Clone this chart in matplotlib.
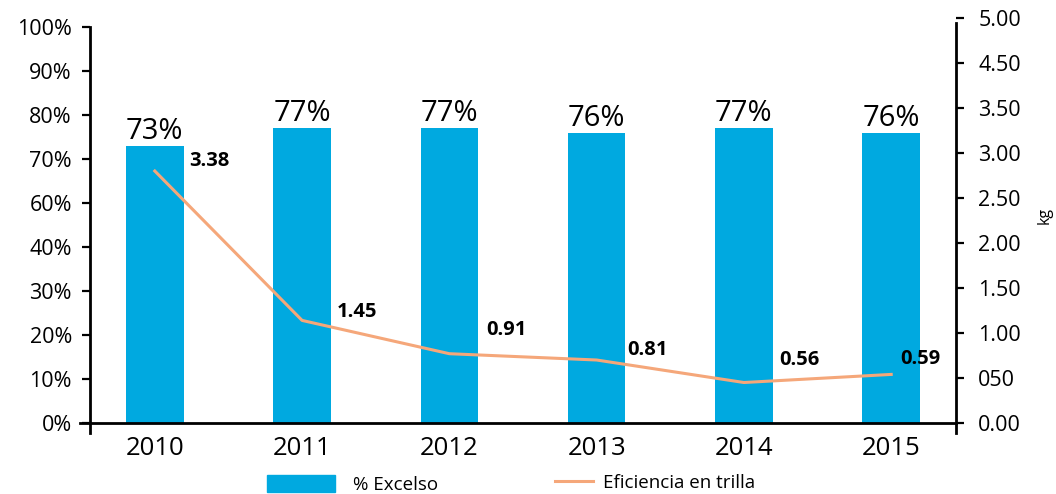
import numpy as np
import matplotlib
matplotlib.use('Agg')
import matplotlib.pyplot as plt
from matplotlib.lines import Line2D
from matplotlib.patches import Patch

years = ['2010', '2011', '2012', '2013', '2014', '2015']
excelso = [73, 77, 77, 76, 77, 76]
# line as drawn against the right axis, and the numbers printed beside it
eficiencia = [2.80, 1.14, 0.77, 0.70, 0.45, 0.54]
eficiencia_txt = ['3.38', '1.45', '0.91', '0.81', '0.56', '0.59']

left_ticks = [0, 10, 20, 30, 40, 60, 70, 80, 90, 100]
right_ticks = [0, 0.5, 1, 1.5, 2, 2.5, 3, 3.5, 4.5, 5]
right_labels = ['0.00', '050', '1.00', '1.50', '2.00', '2.50', '3.00', '3.50', '4.50', '5.00']

BLUE = '#00A9E0'
ORANGE = '#F5A77A'

plt.rcParams['font.family'] = ['Open Sans', 'DejaVu Sans']


# both axes skip one step (50% and 4.00) so the gap is squeezed out
def fwd_left(v):
    v = np.asarray(v, dtype=float)
    return np.where(v <= 40, v, np.where(v >= 60, v - 10, 40 + (v - 40) * 0.5))


def inv_left(p):
    p = np.asarray(p, dtype=float)
    return np.where(p <= 40, p, np.where(p >= 50, p + 10, 40 + (p - 40) * 2))


def fwd_right(v):
    v = np.asarray(v, dtype=float)
    return np.where(v <= 3.5, v, np.where(v >= 4.5, v - 0.5, 3.5 + (v - 3.5) * 0.5))


def inv_right(p):
    p = np.asarray(p, dtype=float)
    return np.where(p <= 3.5, p, np.where(p >= 4.0, p + 0.5, 3.5 + (p - 3.5) * 2))


fig = plt.figure(figsize=(10.56, 4.94), dpi=100)
ax = fig.add_axes([90 / 1056, 61 / 494, 866 / 1056, 415 / 494])
ax2 = ax.twinx()

x = np.arange(len(years))
ax.bar(x, excelso, width=0.39, color=BLUE, zorder=2)
ax2.plot(x, eficiencia, color=ORANGE, lw=2.2, zorder=3)

ax.set_yscale('function', functions=(fwd_left, inv_left))
ax2.set_yscale('function', functions=(fwd_right, inv_right))
ax.set_ylim(-2.27, 102.05)
ax2.set_ylim(-0.111, 4.95)
ax.set_xlim(-0.44, 5.44)

ax.set_yticks(left_ticks)
ax.set_yticklabels([f'{t}%' for t in left_ticks])
ax2.set_yticks(right_ticks)
ax2.set_yticklabels(right_labels)
ax.set_xticks(x)
ax.set_xticklabels(years)

for a in (ax, ax2):
    a.spines['top'].set_visible(False)
    for s in a.spines.values():
        s.set_linewidth(2)
ax.spines['right'].set_visible(False)
ax2.spines['left'].set_visible(False)
ax2.spines['bottom'].set_visible(False)
ax.spines['left'].set_bounds(-2.27, 100)
ax2.spines['right'].set_bounds(-0.111, 4.95)
ax.spines['bottom'].set_position(('data', 0))
ax.spines['bottom'].set_bounds(-0.44 - 0.07, 5.44)

ax.tick_params(axis='y', length=6, width=1.6, pad=7, labelsize=15.5)
ax2.tick_params(axis='y', length=6, width=1.6, pad=10, labelsize=15.5)
ax.tick_params(axis='x', length=0, pad=9, labelsize=18.5)

for i, v in enumerate(excelso):
    ax.annotate(f'{v}%', (i, v), xytext=(0, 5), textcoords='offset points',
                ha='center', va='baseline', fontsize=21)

# label offsets (pixels) from each line point
offs = [(34, 10), (35, 8), (37, 24), (31, 10), (35, 23), (9, 15)]
for i, (v, t) in enumerate(zip(eficiencia, eficiencia_txt)):
    dx, dy = offs[i]
    ax2.annotate(t, (i, v), xytext=(dx * 0.72, dy * 0.72), textcoords='offset points',
                 ha='left', va='center', fontsize=14.5, fontweight='bold')

fig.text(1045 / 1056, 1 - 215 / 494, 'kg', rotation=90, ha='center', va='center', fontsize=11.5)

fig.legend(handles=[Patch(color=BLUE, label='% Excelso')], loc='lower left',
           bbox_to_anchor=(267 / 1056, 0.0), frameon=False, fontsize=13.5,
           handlelength=3.6, handleheight=1.05, handletextpad=1.0,
           borderpad=0, borderaxespad=0)
fig.legend(handles=[Line2D([], [], color=ORANGE, lw=2.2, label='Eficiencia en trilla')],
           loc='lower left', bbox_to_anchor=(555 / 1056, 0.004), frameon=False, fontsize=13.5,
           handlelength=2.0, handletextpad=0.55, borderpad=0, borderaxespad=0)

fig.savefig('out.png', dpi=100)
